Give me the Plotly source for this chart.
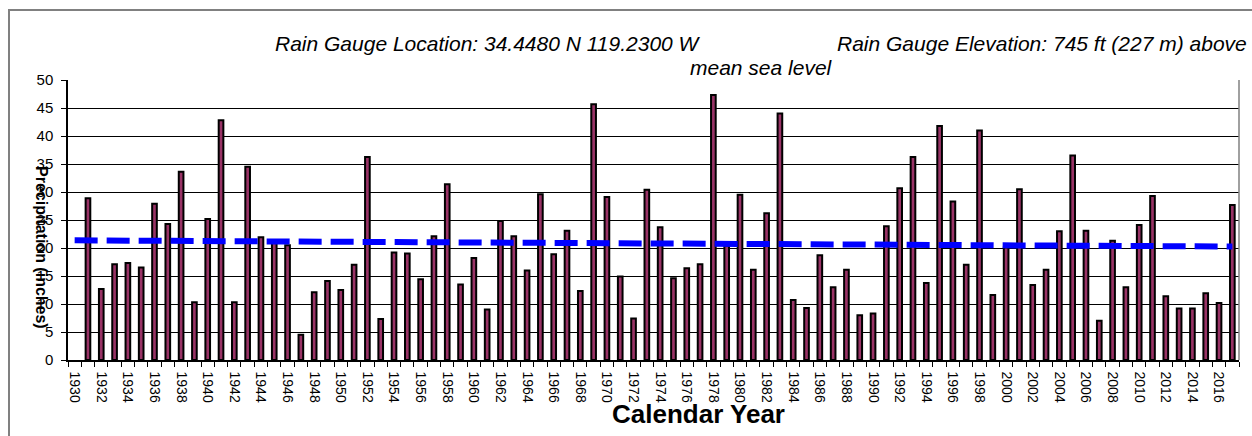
import numpy as np
import plotly.graph_objects as go

# Annual precipitation totals (inches), calendar years 1931-2017
years = list(range(1931, 2018))
precip = [
    28.9, 12.7, 17.1, 17.3, 16.5, 27.9, 24.3, 33.6, 10.3, 25.2,   # 1931-1940
    42.8, 10.3, 34.5, 21.9, 21.0, 20.5, 4.5, 12.1, 14.1, 12.5,    # 1941-1950
    17.0, 36.25, 7.3, 19.2, 19.0, 14.4, 22.1, 31.4, 13.5, 18.2,   # 1951-1960
    9.0, 24.8, 22.1, 16.0, 29.6, 18.9, 23.1, 12.3, 45.65, 29.1,   # 1961-1970
    14.9, 7.4, 30.4, 23.7, 14.6, 16.4, 17.1, 47.3, 20.4, 29.5,    # 1971-1980
    16.1, 26.2, 44.0, 10.7, 9.3, 18.7, 13.0, 16.1, 8.0, 8.3,      # 1981-1990
    23.9, 30.65, 36.25, 13.75, 41.8, 28.3, 17.0, 41.0, 11.6, 20.1,  # 1991-2000
    30.5, 13.4, 16.1, 23.0, 36.5, 23.1, 7.0, 21.3, 13.0, 24.1,    # 2001-2010
    29.3, 11.4, 9.2, 9.2, 11.9, 10.2, 27.7,                       # 2011-2017
]
tick_years = list(range(1930, 2018, 2))
first_year, last_year = 1930, 2017

# Linear trend of the annual totals
slope, intercept = np.polyfit(years, precip, 1)
trend_x = [first_year, last_year]
trend_y = [slope * x + intercept for x in trend_x]

FONT = "Liberation Sans, Arial, sans-serif"

# plot-area pixel box used to place the surrounding text
PL, PR, PT, PB = 68, 1239, 80, 360


def px(x):
    return (x - PL) / (PR - PL)


def py(y):
    return (PB - y) / (PB - PT)


fig = go.Figure()
fig.add_trace(go.Bar(
    x=years, y=precip, width=0.35,
    marker=dict(color="#993366", line=dict(color="black", width=2)),
    showlegend=False,
))
fig.add_trace(go.Scatter(
    x=trend_x, y=trend_y, mode="lines",
    line=dict(color="#0000FF", width=6, dash="23px,9px"),
    showlegend=False,
))

fig.update_layout(
    width=1252, height=436,
    margin=dict(l=PL, r=1252 - PR, t=PT, b=436 - PB),
    paper_bgcolor="white", plot_bgcolor="white",
    font=dict(family=FONT, color="black", size=14),
    xaxis=dict(
        range=[first_year - 0.5, last_year + 0.5],
        tickmode="array", tickvals=tick_years,
        ticktext=[str(y) for y in tick_years],
        tickangle=90, tickfont=dict(size=14),
        ticks="", ticklabelstandoff=7,
        showgrid=False, zeroline=False,
        showline=True, linecolor="black", linewidth=1.5,
        minor=dict(tickmode="array",
                   tickvals=[first_year - 0.5 + i for i in range(last_year - first_year + 2)],
                   ticks="outside", ticklen=5, tickcolor="black", tickwidth=1,
                   showgrid=False),
    ),
    yaxis=dict(
        range=[0, 50], dtick=5, tick0=0,
        ticks="outside", ticklen=5, tickcolor="black",
        tickfont=dict(size=15), ticklabelstandoff=5,
        showgrid=True, gridcolor="black", gridwidth=1,
        zeroline=False, showline=True, linecolor="black", linewidth=1.5,
    ),
    bargap=0.5,
)

# Text blocks around the plot
fig.add_annotation(text="<i>Rain Gauge Location: 34.4480 N 119.2300 W</i>",
                   xref="paper", yref="paper", x=px(273), y=py(43),
                   xanchor="left", yanchor="middle", showarrow=False,
                   font=dict(size=21, family=FONT))
fig.add_annotation(text="<i>Rain Gauge Elevation: 745 ft (227 m) above</i>",
                   xref="paper", yref="paper", x=px(1249), y=py(43),
                   xanchor="right", yanchor="middle", showarrow=False,
                   font=dict(size=21, family=FONT))
fig.add_annotation(text="<i>mean sea level</i>",
                   xref="paper", yref="paper", x=px(688), y=py(68),
                   xanchor="left", yanchor="middle", showarrow=False,
                   font=dict(size=21, family=FONT))
fig.add_annotation(text="<b>Calendar Year</b>",
                   xref="paper", yref="paper", x=px(698), y=py(414),
                   xanchor="center", yanchor="middle", showarrow=False,
                   font=dict(size=26, family=FONT))
fig.add_annotation(text="<b>Precipitation (inches)</b>",
                   xref="paper", yref="paper", x=px(42), y=py(247),
                   xanchor="center", yanchor="middle", showarrow=False, textangle=90,
                   font=dict(size=16, family=FONT))

# Right edge of the plot area and the outer chart frame
fig.add_shape(type="line", xref="paper", yref="paper", x0=1, x1=1, y0=0, y1=1,
              line=dict(color="#808080", width=1.5))
fig.add_shape(type="rect", xref="paper", yref="paper",
              x0=px(9), x1=px(1262), y0=py(446), y1=py(10),
              line=dict(color="#808080", width=2), layer="below")

fig.write_html("out.html")
